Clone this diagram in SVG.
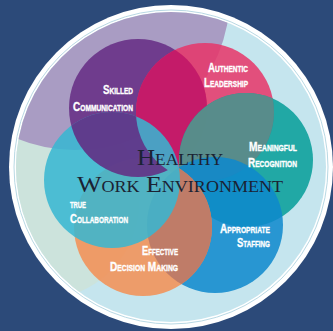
<svg xmlns="http://www.w3.org/2000/svg" width="333" height="331" viewBox="0 0 333 331">
<style>
.lbl{fill:#fff;stroke:#fff;stroke-width:0.35px;font-family:"Liberation Sans",Arial,sans-serif;font-weight:bold;font-size:13.5px;font-variant:small-caps}
.ttl{fill:#1b2233;font-family:"Liberation Serif","Times New Roman",serif;font-size:23px;font-variant:small-caps}
.c{opacity:0.86}
.lens{opacity:0.9}
</style>
<defs>
<clipPath id="disc"><circle cx="171" cy="167" r="155"/></clipPath>
<clipPath id="purpleClip"><circle cx="138" cy="108" r="69"/></clipPath>
<clipPath id="pinkClip"><circle cx="205" cy="112" r="69"/></clipPath>
<clipPath id="blueClip"><circle cx="215" cy="225" r="68"/></clipPath>
<clipPath id="cyanClip"><circle cx="112" cy="180" r="68"/></clipPath>
<mask id="noPink"><rect width="333" height="331" fill="#fff"/><circle cx="205" cy="112" r="69" fill="#000"/></mask>
</defs>
<rect width="333" height="331" fill="#2c4a79"/>
<g id="frame">
<circle cx="171" cy="167" r="162" fill="#fff"/>
<circle cx="171" cy="167" r="157" fill="none" stroke="#b9d9e4" stroke-width="1"/>
<circle cx="171" cy="167" r="155" fill="#c5e5ee"/>
<g clip-path="url(#disc)">
<circle cx="40" cy="200" r="100" fill="#cce3dc"/>
<circle cx="75" cy="-5" r="155" fill="#a99cc3"/>
</g>
</g>
<g id="purple"><circle class="c" cx="138" cy="108" r="69" fill="#652c83"/></g>
<g id="pink"><circle class="c" cx="205" cy="112" r="69" fill="#e63569"/>
<g clip-path="url(#purpleClip)"><circle class="lens" cx="205" cy="112" r="69" fill="#c21868"/></g></g>
<g id="teal"><circle class="c" cx="246" cy="160" r="67" fill="#069d99"/>
<g clip-path="url(#pinkClip)"><circle class="lens" cx="246" cy="160" r="67" fill="#5e8c89"/></g></g>
<g id="blue"><circle class="c" cx="215" cy="225" r="68" fill="#0e88cd"/></g>
<g id="orange"><circle class="c" cx="143" cy="227" r="69" fill="#f38f54"/>
<g clip-path="url(#blueClip)"><circle class="lens" cx="143" cy="227" r="69" fill="#bd7a68"/></g></g>
<g id="cyan"><circle class="c" cx="112" cy="180" r="68" fill="#37b7d2"/></g>
<g id="purple-top" clip-path="url(#cyanClip)"><circle class="c" cx="138" cy="108" r="69" fill="#652c83" mask="url(#noPink)"/></g>
<g id="title">
<text class="ttl" x="137" y="165" textLength="86" lengthAdjust="spacingAndGlyphs">Healthy</text>
<text class="ttl" x="77" y="192" textLength="206" lengthAdjust="spacingAndGlyphs">Work Environment</text>
</g>
<g id="labels">
<text class="lbl" x="133" y="94" text-anchor="end" textLength="30" lengthAdjust="spacingAndGlyphs">Skilled</text>
<text class="lbl" x="133" y="111" text-anchor="end" textLength="60" lengthAdjust="spacingAndGlyphs">Communication</text>
<text class="lbl" x="248" y="72" text-anchor="end" textLength="40" lengthAdjust="spacingAndGlyphs">Authentic</text>
<text class="lbl" x="248" y="87" text-anchor="end" textLength="44" lengthAdjust="spacingAndGlyphs">Leadership</text>
<text class="lbl" x="297" y="151" text-anchor="end" textLength="48" lengthAdjust="spacingAndGlyphs">Meaningful</text>
<text class="lbl" x="297" y="167" text-anchor="end" textLength="49" lengthAdjust="spacingAndGlyphs">Recognition</text>
<text class="lbl" x="70" y="208" textLength="16" lengthAdjust="spacingAndGlyphs">true</text>
<text class="lbl" x="70" y="223" textLength="58" lengthAdjust="spacingAndGlyphs">Collaboration</text>
<text class="lbl" x="178" y="255" text-anchor="end" textLength="36" lengthAdjust="spacingAndGlyphs">Effective</text>
<text class="lbl" x="178" y="271" text-anchor="end" textLength="68" lengthAdjust="spacingAndGlyphs">Decision Making</text>
<text class="lbl" x="270" y="233" text-anchor="end" textLength="50" lengthAdjust="spacingAndGlyphs">Appropriate</text>
<text class="lbl" x="270" y="247" text-anchor="end" textLength="33" lengthAdjust="spacingAndGlyphs">Staffing</text>
</g>
</svg>
